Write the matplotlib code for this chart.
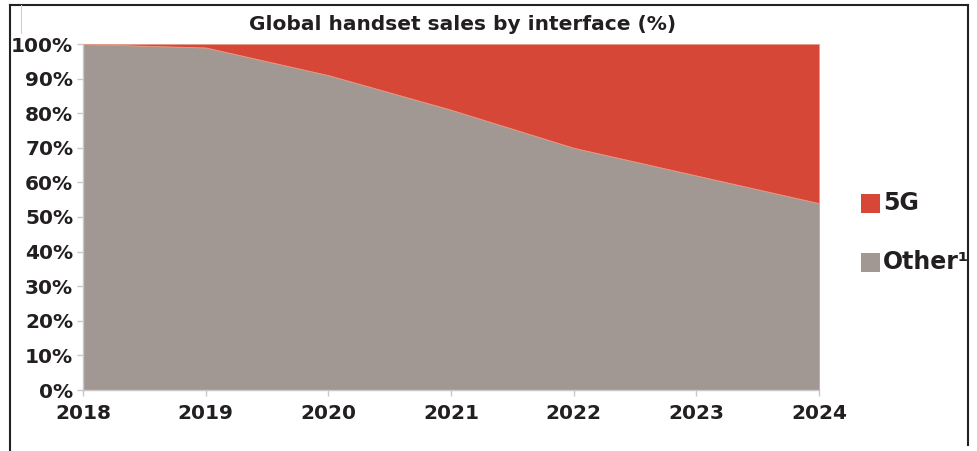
import matplotlib

matplotlib.use("Agg")
import matplotlib.pyplot as plt
from matplotlib.patches import Rectangle

# data
years = [2018, 2019, 2020, 2021, 2022, 2023, 2024]
other_share = [100, 99, 91, 81, 70, 62, 54]
share_5g = [0, 1, 9, 19, 30, 38, 46]
series_labels = ["5G", "Other¹"]
series_colors = ["#D64738", "#A29893"]
y_ticks = list(range(0, 101, 10))
title = "Global handset sales by interface (%)"

text_color = "#231F20"
axis_gray = "#C8C8C8"

fig = plt.figure(figsize=(9.77, 4.51), dpi=100)
ax = fig.add_axes([83 / 977, 1 - 390 / 451, (819 - 83) / 977, (390 - 44) / 451])

ax.stackplot(years, other_share, share_5g, colors=series_colors[::-1],
             edgecolor="#E39A86", linewidth=0.6)

ax.set_xlim(years[0], years[-1])
ax.set_ylim(0, 100)
ax.set_xticks(years)
ax.set_xticklabels([str(y) for y in years])
ax.set_yticks(y_ticks)
ax.set_yticklabels([f"{v}%" for v in y_ticks])

for side in ("top", "right"):
    ax.spines[side].set_visible(False)
for side in ("left", "bottom"):
    ax.spines[side].set_color(axis_gray)
    ax.spines[side].set_linewidth(1.0)

ax.tick_params(axis="both", colors=axis_gray, length=4, width=1.0,
               labelcolor=text_color, labelsize=14.5)
ax.tick_params(axis="y", pad=3)
ax.tick_params(axis="x", pad=6)
for lbl in ax.get_xticklabels() + ax.get_yticklabels():
    lbl.set_fontweight("bold")

fig.text(463 / 977, 1 - 25 / 451, title, ha="center", va="center",
         fontsize=14.5, fontweight="bold", color=text_color)

# outer frame around the chart (bottom edge cut off in the reference)
frame_x0, frame_x1 = 10 / 977, 968 / 977
frame_y1 = 1 - 5 / 451
fig.add_artist(plt.Line2D([frame_x0, frame_x0], [0, frame_y1], transform=fig.transFigure,
                          color="#222222", linewidth=1.5))
fig.add_artist(plt.Line2D([frame_x0, frame_x1], [frame_y1, frame_y1], transform=fig.transFigure,
                          color="#222222", linewidth=1.5))
fig.add_artist(plt.Line2D([frame_x1, frame_x1], [1 - 445 / 451, frame_y1], transform=fig.transFigure,
                          color="#222222", linewidth=1.5))
# faint inner chart-area edge visible at the top left
fig.add_artist(plt.Line2D([21 / 977, 21 / 977], [1 - 33 / 451, frame_y1], transform=fig.transFigure,
                          color="#D0D0D0", linewidth=0.8))

# legend, drawn by hand so that the text can run into the frame like the reference
clip = Rectangle((frame_x0, 0), frame_x1 - frame_x0, 1, transform=fig.transFigure,
                 facecolor="none", edgecolor="none")
fig.add_artist(clip)
legend_rows = [203, 262]
for label, color, yc in zip(series_labels, series_colors, legend_rows):
    fig.add_artist(Rectangle((861 / 977, 1 - (yc + 9.5) / 451), 19 / 977, 19 / 451,
                             transform=fig.transFigure, facecolor=color, edgecolor="none"))
    t = fig.text(883 / 977, 1 - yc / 451, label, ha="left", va="center",
                 fontsize=17, fontweight="bold", color=text_color)
    t.set_clip_path(clip)

plt.savefig("out.png", dpi=100)
plt.close()
